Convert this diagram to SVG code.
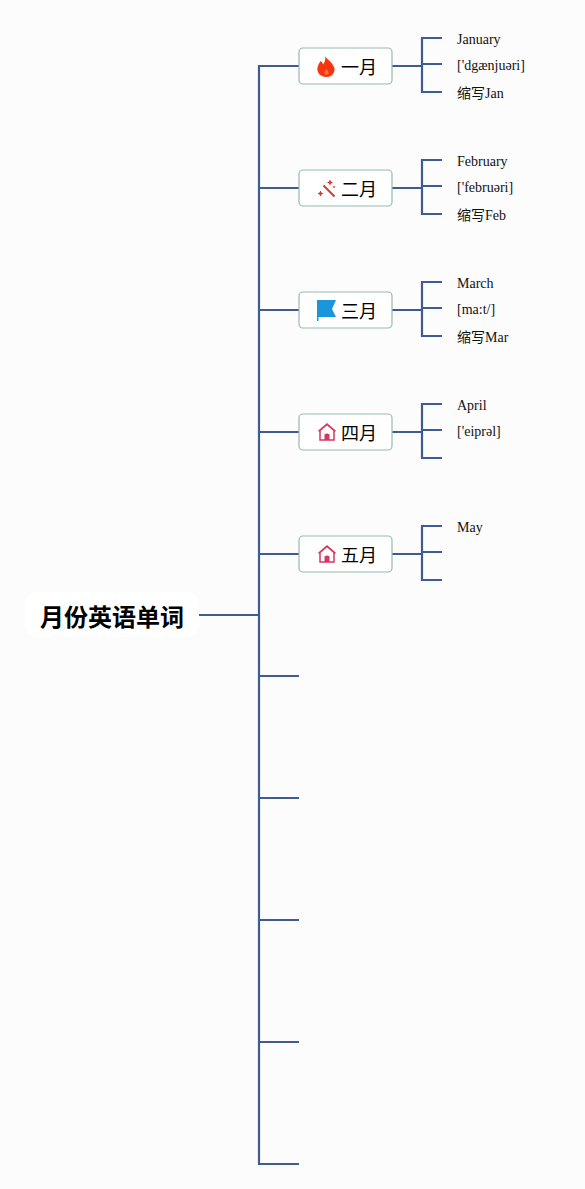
<svg xmlns="http://www.w3.org/2000/svg" width="585" height="1189" viewBox="0 0 585 1189">
<style>
.c{fill:none;stroke:#3f5c92;stroke-width:2.2}
.n{fill:#fff;stroke:#94bab1;stroke-width:1.2}
.t{font-family:"Noto Sans CJK SC",sans-serif;font-size:18px;fill:#000}
.l{font-family:"Liberation Serif","Noto Sans CJK SC",serif;font-size:14px;fill:#111}
.h{fill:none;stroke:#d8365f;stroke-width:1.5}
.d{fill:#d8365f}
</style>
<defs>
<g id="home"><path class="h" d="M-7 8V-1.500L0-7.500L7-1.500V8ZM-8.500-.8L0-8L8.500-.8"/><path class="d" d="M-2.500 8V2.500Q0 .5 2.500 2.500V8Z"/></g>
</defs>
<rect width="585" height="1189" fill="#fcfcfc"/>
<g id="connectors">
<path class="c" d="M199 615H259M259 65V1165M259 66H299M259 188H299M259 310H299M259 432H299M259 554H299M259 676H299M259 798H299M259 920H299M259 1042H299M259 1164H299"/>
<path class="c" d="M392 66H422M422 37V93M422 38H442M422 64H442M422 92H442"/>
<path class="c" d="M392 188H422M422 159V215M422 160H442M422 186H442M422 214H442"/>
<path class="c" d="M392 310H422M422 281V337M422 282H442M422 308H442M422 336H442"/>
<path class="c" d="M392 432H422M422 403V459M422 404H442M422 430H442M422 458H442"/>
<path class="c" d="M392 554H422M422 525V581M422 526H442M422 552H442M422 580H442"/>
</g>
<g id="root"><rect x="25" y="592" width="174" height="45" rx="12" fill="#fff"/><text x="112" y="625.500" text-anchor="middle" font-family="'Noto Sans CJK SC',sans-serif" font-size="24" font-weight="700" fill="#000">月份英语单词</text></g>
<g id="m1"><rect class="n" x="299" y="48" width="93" height="36" rx="4"/>
<path fill="#f5360f" d="M325 56C326.500 59 332 62 334 67C336 72 332 77 326.500 77C320.500 77 316.500 72.500 317.500 67.500C318 65 319.500 63 320.500 61C322 62 322.800 63 323 64.500C325 62 325.800 59 325 56Z"/><path fill="#ff8a50" opacity=".7" d="M326.500 69C328 71 329 72 328.500 73.500C327.500 75 325 75 324.300 73.500C323.800 72 325.500 71 326.500 69Z"/>
<text class="t" x="341" y="74">一月</text></g>
<g id="m2"><rect class="n" x="299" y="170" width="93" height="36" rx="4"/>
<path stroke="#d23a32" stroke-width="2" fill="none" d="M323.500 185.500L334.500 196.500"/><path fill="#d23a32" d="M330 179.500l1 2 2 1-2 1-1 2-1-2-2-1 2-1zM320.500 190.500l1 2 2 1-2 1-1 2-1-2-2-1 2-1z"/><circle cx="334" cy="187" r=".9" fill="#d23a32"/>
<text class="t" x="341" y="196">二月</text></g>
<g id="m3"><rect class="n" x="299" y="292" width="93" height="36" rx="4"/>
<path fill="#1a96dc" d="M317 300H336L332 309L336 317H318.500V321H317Z"/>
<text class="t" x="341" y="318">三月</text></g>
<g id="m4"><rect class="n" x="299" y="414" width="93" height="36" rx="4"/><use href="#home" x="327" y="432"/><text class="t" x="341" y="440">四月</text></g>
<g id="m5"><rect class="n" x="299" y="536" width="93" height="36" rx="4"/><use href="#home" x="327" y="554"/><text class="t" x="341" y="562">五月</text></g>
<g id="labels">
<text class="l" x="457" y="44">January</text><text class="l" x="457" y="70">['dgænjuəri]</text><text class="l" x="457" y="98">缩写Jan</text>
<text class="l" x="457" y="166">February</text><text class="l" x="457" y="192">['februəri]</text><text class="l" x="457" y="220">缩写Feb</text>
<text class="l" x="457" y="288">March</text><text class="l" x="457" y="314">[ma:t/]</text><text class="l" x="457" y="342">缩写Mar</text>
<text class="l" x="457" y="410">April</text><text class="l" x="457" y="436">['eiprəl]</text>
<text class="l" x="457" y="532">May</text>
</g>
</svg>
